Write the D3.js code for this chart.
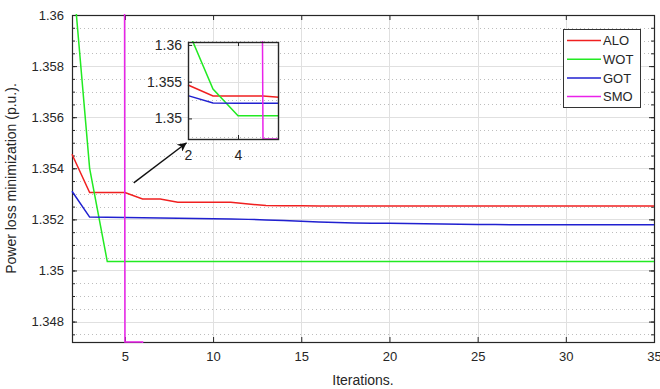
<!DOCTYPE html>
<html>
<head>
<meta charset="utf-8">
<script src="https://cdn.jsdelivr.net/npm/d3@7"></script>
<style>
  body { margin: 0; background: #fff; }
  text { font-family: "Liberation Sans", Arial, sans-serif; fill: #262626; }
</style>
</head>
<body>
<svg id="chart" width="660" height="389"></svg>
<script>
// iterations 2..35
const iterations = d3.range(2, 36);
const aloValues = [1.35455, 1.35305, 1.35305, 1.35305, 1.3528, 1.3528, 1.35267, 1.35267, 1.35267, 1.35267,
  1.3526, 1.35254, 1.35253, 1.35253, 1.35252, 1.35252, 1.35252, 1.35252, 1.35252, 1.35252,
  1.35252, 1.35252, 1.35252, 1.35252, 1.35252, 1.35252, 1.35252, 1.35252, 1.35252, 1.35252,
  1.35252, 1.35252, 1.35252, 1.35252];
const wotValues = [1.362, 1.354, 1.35035, 1.35035, 1.35035, 1.35035, 1.35035, 1.35035, 1.35035, 1.35035,
  1.35035, 1.35035, 1.35035, 1.35035, 1.35035, 1.35035, 1.35035, 1.35035, 1.35035, 1.35035,
  1.35035, 1.35035, 1.35035, 1.35035, 1.35035, 1.35035, 1.35035, 1.35035, 1.35035, 1.35035,
  1.35035, 1.35035, 1.35035, 1.35035];
const gotValues = [1.3531, 1.35209, 1.35208, 1.35207, 1.35206, 1.35205, 1.35204, 1.35203, 1.35202, 1.35201,
  1.352, 1.35198, 1.35196, 1.35193, 1.3519, 1.35188, 1.35186, 1.35185, 1.35185, 1.35184,
  1.35183, 1.35182, 1.35181, 1.3518, 1.3518, 1.35179, 1.35179, 1.35179, 1.35179, 1.35179,
  1.35179, 1.35179, 1.35179, 1.35179];
// SMO only shows as a drop at iteration 5, the rest is off-scale
const smoIterations = [4, 5, 6, 7];
const smoValues = [2.0, 1.3472, 1.3472, 1.30];

const seriesNames = ["ALO", "WOT", "GOT", "SMO"];
const seriesColors = ["#f02020", "#22ea22", "#2020d0", "#ea22ea"];

const xTicks = [5, 10, 15, 20, 25, 30, 35];
const yTicks = [1.348, 1.35, 1.352, 1.354, 1.356, 1.358, 1.36];
const yMinorTicks = d3.range(0, 26).map(i => 1.3475 + i * 0.0005);

const insetXTicks = [2, 4];
const insetYTicks = [1.35, 1.355, 1.36];
const insetYMinor = [1.3475, 1.3525, 1.3575];

// arrow annotation in data units: from -> to
const arrowFrom = [5.5, 1.35343];
const arrowTo = [8.5, 1.355];

const series = [
  { name: "ALO", pts: iterations.map((d, i) => [d, aloValues[i]]) },
  { name: "WOT", pts: iterations.map((d, i) => [d, wotValues[i]]) },
  { name: "GOT", pts: iterations.map((d, i) => [d, gotValues[i]]) },
  { name: "SMO", pts: smoIterations.map((d, i) => [d, smoValues[i]]) }
];
const color = d3.scaleOrdinal(seriesNames, seriesColors);

const svg = d3.select("#chart");
const margin = { top: 15, right: 6, bottom: 47, left: 72 };
const width = 660 - margin.left - margin.right;
const height = 389 - margin.top - margin.bottom;

const x = d3.scaleLinear().domain([2, 35]).range([0, width]);
const y = d3.scaleLinear().domain([1.3472, 1.36]).range([height, 0]);

const g = svg.append("g").attr("transform", `translate(${margin.left},${margin.top})`);

// grid
g.append("g").selectAll("line").data(yMinorTicks.filter(v => !yTicks.some(t => Math.abs(t - v) < 1e-7)))
  .join("line")
  .attr("x1", 0).attr("x2", width)
  .attr("y1", d => Math.round(y(d)) + 0.5).attr("y2", d => Math.round(y(d)) + 0.5)
  .attr("stroke", "#bdbdbd").attr("stroke-dasharray", "1,3");
g.append("g").selectAll("line").data(yTicks)
  .join("line")
  .attr("x1", 0).attr("x2", width)
  .attr("y1", d => Math.round(y(d)) + 0.5).attr("y2", d => Math.round(y(d)) + 0.5)
  .attr("stroke", "#e0e0e0");
g.append("g").selectAll("line").data(xTicks)
  .join("line")
  .attr("x1", d => Math.round(x(d)) + 0.5).attr("x2", d => Math.round(x(d)) + 0.5)
  .attr("y1", 0).attr("y2", height)
  .attr("stroke", "#e0e0e0");

// axes with inward ticks
function styleAxis(sel) {
  sel.select(".domain").remove();
  sel.selectAll(".tick line").attr("stroke", "#262626");
  sel.selectAll("text").attr("font-size", 13).attr("fill", "#262626");
}
g.append("g").attr("transform", `translate(0,${height})`)
  .call(d3.axisBottom(x).tickValues(xTicks).tickSize(-5).tickPadding(10).tickFormat(d3.format("d")))
  .call(styleAxis);
g.append("g")
  .call(d3.axisTop(x).tickValues(xTicks).tickSize(-5).tickFormat(""))
  .call(styleAxis);
g.append("g")
  .call(d3.axisLeft(y).tickValues(yTicks).tickSize(-5).tickPadding(8).tickFormat(d => +d.toFixed(3)))
  .call(styleAxis);
g.append("g")
  .call(d3.axisLeft(y).tickValues(yMinorTicks).tickSize(-3).tickFormat(""))
  .call(styleAxis);
g.append("g").attr("transform", `translate(${width},0)`)
  .call(d3.axisRight(y).tickValues(yTicks).tickSize(-5).tickFormat(""))
  .call(styleAxis);
g.append("g").attr("transform", `translate(${width},0)`)
  .call(d3.axisRight(y).tickValues(yMinorTicks).tickSize(-3).tickFormat(""))
  .call(styleAxis);

g.append("rect").attr("x", 0.5).attr("y", 0.5).attr("width", width).attr("height", height)
  .attr("fill", "none").attr("stroke", "#262626").attr("stroke-width", 1.2);

// lines
svg.append("defs").append("clipPath").attr("id", "clipMain")
  .append("rect").attr("x", -1).attr("y", -1).attr("width", width + 2).attr("height", height + 2);

const line = d3.line().x(d => x(d[0])).y(d => y(d[1]));
g.append("g").attr("clip-path", "url(#clipMain)")
  .selectAll("path").data(series).join("path")
  .attr("d", d => line(d.pts))
  .attr("fill", "none")
  .attr("stroke", d => color(d.name))
  .attr("stroke-width", 1.5);

// axis titles
g.append("text")
  .attr("x", width / 2).attr("y", height + 43)
  .attr("text-anchor", "middle").attr("font-size", 14)
  .text("Iterations.");
g.append("text")
  .attr("transform", `translate(${-56},${height / 2}) rotate(-90)`)
  .attr("text-anchor", "middle").attr("font-size", 14)
  .text("Power loss minimization (p.u.).");

// legend
const lg = g.append("g").attr("transform", `translate(${563 - margin.left},${29 - margin.top})`);
lg.append("rect").attr("x", 0.5).attr("y", 0.5).attr("width", 77).attr("height", 78)
  .attr("fill", "#fff").attr("stroke", "#333");
seriesNames.forEach((name, i) => {
  const yy = 11.5 + i * 18.7;
  lg.append("line").attr("x1", 4).attr("x2", 38).attr("y1", yy).attr("y2", yy)
    .attr("stroke", color(name)).attr("stroke-width", 1.5);
  lg.append("text").attr("x", 40).attr("y", yy).attr("dy", "0.36em")
    .attr("font-size", 13).text(name);
});

// arrow annotation
svg.select("defs").append("marker")
  .attr("id", "arrowHead").attr("viewBox", "0 0 10 10")
  .attr("refX", 10).attr("refY", 5)
  .attr("markerWidth", 9).attr("markerHeight", 9)
  .attr("markerUnits", "userSpaceOnUse")
  .attr("orient", "auto")
  .append("path").attr("d", "M0,0 L10,5 L0,10 L3,5 Z").attr("fill", "#111");
g.append("line")
  .attr("x1", x(arrowFrom[0])).attr("y1", y(arrowFrom[1]))
  .attr("x2", x(arrowTo[0])).attr("y2", y(arrowTo[1]))
  .attr("stroke", "#111").attr("stroke-width", 1.4)
  .attr("marker-end", "url(#arrowHead)");

// inset zoom
const inset = { left: 188, top: 42, width: 90, height: 97 };
const ix = d3.scaleLinear().domain([2, 5.6]).range([0, inset.width]);
const iy = d3.scaleLinear().domain([1.3472, 1.3604]).range([inset.height, 0]);
const ig = svg.append("g").attr("transform", `translate(${inset.left},${inset.top})`);
ig.append("rect").attr("width", inset.width).attr("height", inset.height).attr("fill", "#fff");
ig.append("g").selectAll("line").data(insetYMinor).join("line")
  .attr("x1", 0).attr("x2", inset.width)
  .attr("y1", d => Math.round(iy(d)) + 0.5).attr("y2", d => Math.round(iy(d)) + 0.5)
  .attr("stroke", "#bdbdbd").attr("stroke-dasharray", "1,3");
ig.append("g").selectAll("line").data(insetYTicks).join("line")
  .attr("x1", 0).attr("x2", inset.width)
  .attr("y1", d => Math.round(iy(d)) + 0.5).attr("y2", d => Math.round(iy(d)) + 0.5)
  .attr("stroke", "#e0e0e0");
ig.append("g").selectAll("line").data(insetXTicks).join("line")
  .attr("x1", d => Math.round(ix(d)) + 0.5).attr("x2", d => Math.round(ix(d)) + 0.5)
  .attr("y1", 0).attr("y2", inset.height)
  .attr("stroke", "#e0e0e0");

function styleInset(sel) {
  sel.select(".domain").remove();
  sel.selectAll(".tick line").attr("stroke", "#262626");
  sel.selectAll("text").attr("font-size", 14).attr("fill", "#262626");
}
ig.append("g").attr("transform", `translate(0,${inset.height})`)
  .call(d3.axisBottom(ix).tickValues(insetXTicks).tickSize(-4).tickPadding(11).tickFormat(d3.format("d")))
  .call(styleInset);
ig.append("g")
  .call(d3.axisTop(ix).tickValues(insetXTicks).tickSize(-4).tickFormat(""))
  .call(styleInset);
ig.append("g")
  .call(d3.axisLeft(iy).tickValues(insetYTicks).tickSize(-4).tickPadding(6).tickFormat(d => +d.toFixed(3)))
  .call(styleInset);

svg.select("defs").append("clipPath").attr("id", "clipInset")
  .append("rect").attr("x", -1).attr("y", -1).attr("width", inset.width + 2).attr("height", inset.height + 2);
const iline = d3.line().x(d => ix(d[0])).y(d => iy(d[1]));
ig.append("g").attr("clip-path", "url(#clipInset)")
  .selectAll("path").data(series).join("path")
  .attr("d", d => iline(d.pts))
  .attr("fill", "none")
  .attr("stroke", d => color(d.name))
  .attr("stroke-width", 1.5);
ig.append("rect").attr("x", 0.5).attr("y", 0.5).attr("width", inset.width).attr("height", inset.height)
  .attr("fill", "none").attr("stroke", "#262626").attr("stroke-width", 1.4);
</script>
</body>
</html>
